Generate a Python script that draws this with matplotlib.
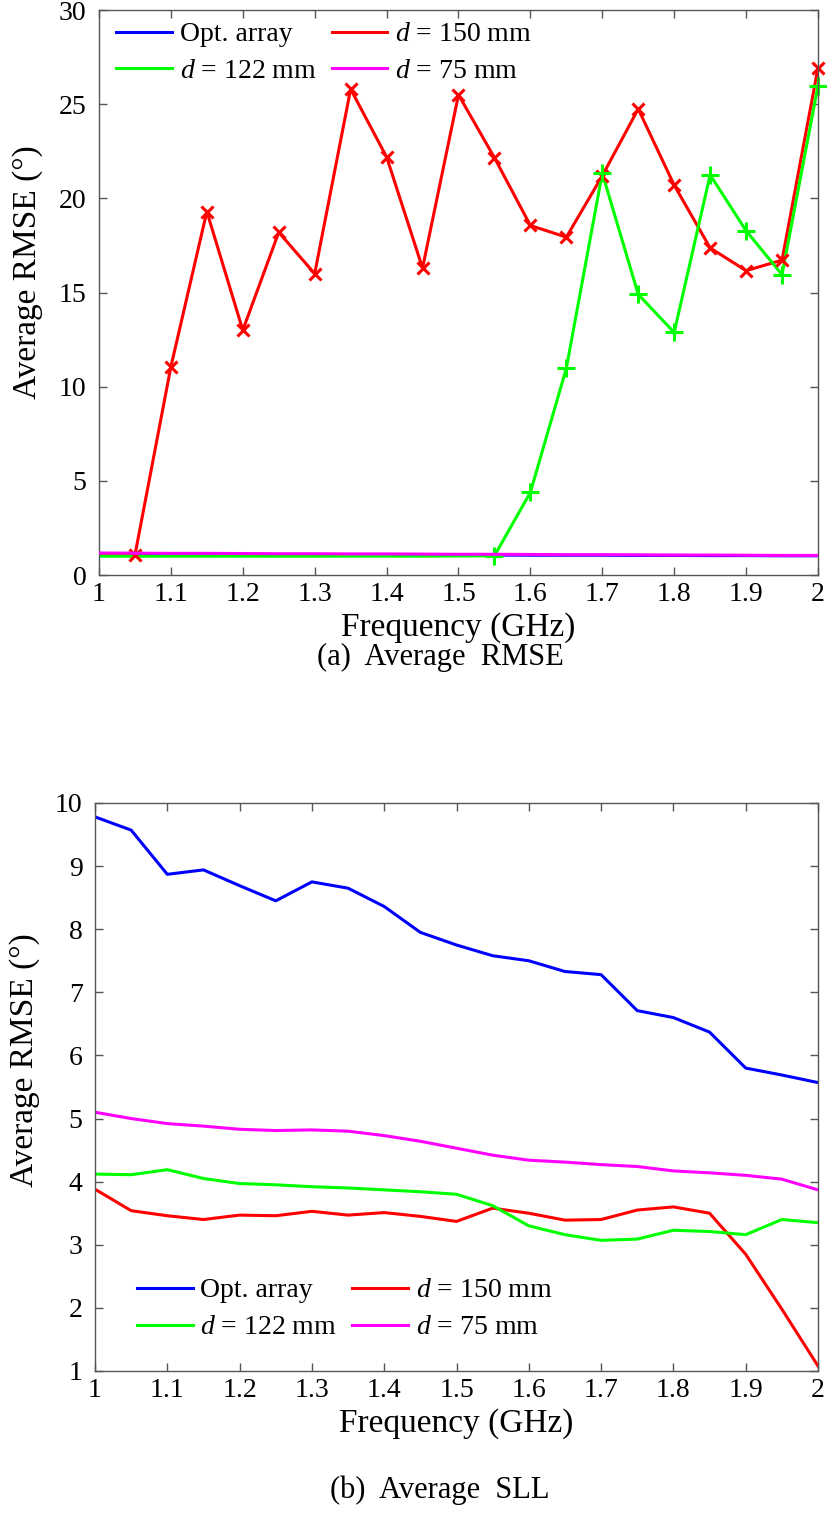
import matplotlib
matplotlib.use("Agg")
import matplotlib.pyplot as plt

plt.rcParams['font.family'] = ['Liberation Serif', 'DejaVu Serif']
plt.rcParams['mathtext.fontset'] = 'custom'
plt.rcParams['mathtext.it'] = 'Liberation Serif:italic'
plt.rcParams['mathtext.rm'] = 'Liberation Serif'

# frequency axis (GHz)
freq = [1.00, 1.05, 1.10, 1.15, 1.20, 1.25, 1.30, 1.35, 1.40, 1.45, 1.50,
        1.55, 1.60, 1.65, 1.70, 1.75, 1.80, 1.85, 1.90, 1.95, 2.00]

labels = ["Opt. array", "$d$ = 150 mm", "$d$ = 122 mm", "$d$ = 75 mm"]
colors = ["#0000ff", "#ff0000", "#00ff00", "#ff00ff"]

# (a) average RMSE
rmse_opt = [1.10, 1.10, 1.09, 1.09, 1.08, 1.08, 1.08, 1.07, 1.07, 1.07, 1.06,
            1.06, 1.05, 1.05, 1.05, 1.04, 1.04, 1.03, 1.03, 1.02, 1.02]
rmse_150 = [1.05, 1.06, 11.06, 19.30, 13.00, 18.20, 16.00, 25.80, 22.20, 16.30, 25.50,
            22.16, 18.56, 17.94, 21.20, 24.75, 20.70, 17.37, 16.16, 16.72, 26.93]
rmse_122 = [1.00, 1.00, 1.00, 1.00, 1.00, 1.00, 1.00, 1.00, 1.00, 1.00, 1.01,
            1.02, 4.39, 10.98, 21.34, 14.90, 12.88, 21.25, 18.28, 15.95, 25.98]
rmse_75 = [1.17, 1.16, 1.15, 1.15, 1.14, 1.13, 1.13, 1.12, 1.12, 1.11, 1.10,
           1.10, 1.09, 1.08, 1.08, 1.07, 1.06, 1.06, 1.05, 1.04, 1.04]

# (b) average SLL
sll_opt = [9.78, 9.57, 8.87, 8.94, 8.69, 8.45, 8.75, 8.65, 8.36, 7.95, 7.75,
           7.58, 7.50, 7.33, 7.28, 6.71, 6.60, 6.37, 5.80, 5.69, 5.57]
sll_150 = [3.88, 3.54, 3.46, 3.40, 3.47, 3.46, 3.53, 3.47, 3.51, 3.45, 3.37,
           3.58, 3.50, 3.39, 3.40, 3.55, 3.60, 3.50, 2.85, 1.98, 1.08]
sll_122 = [4.12, 4.11, 4.19, 4.05, 3.97, 3.95, 3.92, 3.90, 3.87, 3.84, 3.80,
           3.62, 3.30, 3.16, 3.07, 3.09, 3.23, 3.21, 3.16, 3.40, 3.35]
sll_75 = [5.10, 5.00, 4.92, 4.88, 4.83, 4.81, 4.82, 4.80, 4.73, 4.64, 4.53,
          4.42, 4.34, 4.31, 4.27, 4.24, 4.17, 4.14, 4.10, 4.04, 3.87]

xticks = [1, 1.1, 1.2, 1.3, 1.4, 1.5, 1.6, 1.7, 1.8, 1.9, 2]
xticklabels = ["1", "1.1", "1.2", "1.3", "1.4", "1.5", "1.6", "1.7", "1.8", "1.9", "2"]

FS = 20
LW = 2.2


def style_axes(ax, ylim, yticks, label_y):
    ax.set_xlim(1, 2)
    ax.set_ylim(*ylim)
    ax.set_xticks(xticks)
    ax.set_xticklabels(xticklabels)
    ax.set_yticks(yticks)
    ax.tick_params(direction='in', length=5.5, width=1, top=True, right=True,
                   labelsize=FS, color='#555555')
    ax.tick_params(axis='x', pad=5)
    ax.tick_params(axis='y', pad=9)
    for s in ax.spines.values():
        s.set_color('#555555')
        s.set_linewidth(1.0)
    ax.set_xlabel("Frequency (GHz)", fontsize=24, labelpad=4)
    ax.set_ylabel("Average RMSE (°)", fontsize=24, labelpad=11)
    ax.yaxis.label.set_y(label_y)


def add_legend(ax, handles, anchor, loc):
    order = [0, 2, 1, 3]
    ax.legend([handles[i] for i in order], [labels[i] for i in order], ncol=2,
              loc=loc, bbox_to_anchor=anchor, frameon=False, fontsize=FS,
              borderpad=0, borderaxespad=0, handlelength=2.0, handletextpad=0.28,
              columnspacing=0.55, labelspacing=0.41)


fig = plt.figure(figsize=(8.27, 15.24), dpi=100)

# ---- top panel
ax1 = fig.add_axes([0.1197, 0.6227, 0.8694, 0.3707])
series_a = [rmse_opt, rmse_150, rmse_122, rmse_75]
lines = []
for ys, c, lab in zip(series_a, colors, labels):
    ln, = ax1.plot(freq, ys, color=c, lw=LW, label=lab)
    lines.append(ln)
# markers only on the rising parts
ax1.plot(freq[1:], rmse_150[1:], ls='none', marker='x', ms=9, mew=2.2,
         color=colors[1], clip_on=False)
ax1.plot(freq[11:], rmse_122[11:], ls='none', marker='+', ms=13, mew=2.2,
         color=colors[2], clip_on=False)
lines[3].set_zorder(3)
style_axes(ax1, (0, 30), [0, 5, 10, 15, 20, 25, 30], 0.536)
add_legend(ax1, lines, (0.024, 0.979), 'upper left')

# ---- bottom panel
ax2 = fig.add_axes([0.1149, 0.1004, 0.8742, 0.3727])
series_b = [sll_opt, sll_150, sll_122, sll_75]
lines2 = []
for ys, c, lab in zip(series_b, colors, labels):
    ln, = ax2.plot(freq, ys, color=c, lw=LW, label=lab)
    lines2.append(ln)
style_axes(ax2, (1, 10), [1, 2, 3, 4, 5, 6, 7, 8, 9, 10], 0.548)
add_legend(ax2, lines2, (0.058, 0.054), 'lower left')

fig.text(0.532, 1 - 657 / 1524, "(a)  Average  RMSE", ha='center', va='center', fontsize=22)
fig.text(0.532, 1 - 1490 / 1524, "(b)  Average  SLL", ha='center', va='center', fontsize=22)

fig.savefig("out.png", dpi=100)
